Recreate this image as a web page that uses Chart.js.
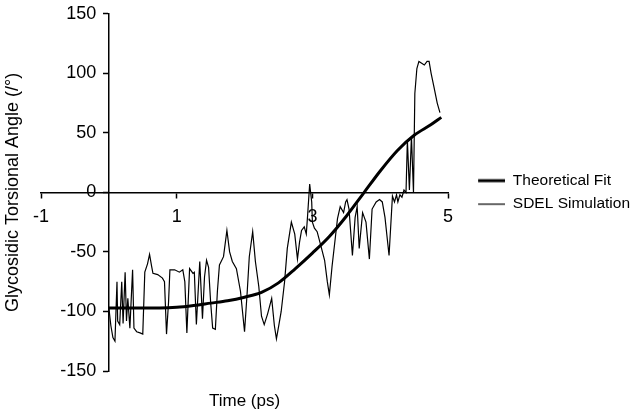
<!DOCTYPE html>
<html>
<head>
<meta charset="utf-8">
<script src="https://cdn.jsdelivr.net/npm/chart.js@4"></script>
<style>
  html, body { margin: 0; padding: 0; background: #fff; }
</style>
</head>
<body>
<canvas id="torsion-graph" width="640" height="415"></canvas>
<script>
// series
var seriesNames = ['Theoretical Fit', 'SDEL Simulation'];

var fitTime = [0, 0.25, 0.5, 0.75, 1, 1.25, 1.5, 1.75, 2, 2.25, 2.5, 2.75, 3, 3.25, 3.5, 3.75, 4, 4.25, 4.5, 4.75, 4.9];
var fitAngle = [-97, -97, -97, -97, -96.5, -95, -93, -91, -88, -84, -76, -64, -51, -37, -20, -1, 18, 35, 48, 57, 63];

var simTime = [0.00, 0.03, 0.06, 0.09, 0.12, 0.13, 0.16, 0.19, 0.21, 0.24,
    0.26, 0.28, 0.31, 0.35, 0.37, 0.41, 0.46, 0.50, 0.53, 0.57,
    0.60, 0.63, 0.65, 0.72, 0.79, 0.82, 0.85, 0.88, 0.90, 0.97,
    1.04, 1.09, 1.12, 1.15, 1.19, 1.24, 1.26, 1.29, 1.34, 1.38,
    1.41, 1.44, 1.47, 1.50, 1.53, 1.57, 1.60, 1.63, 1.69, 1.74,
    1.78, 1.82, 1.88, 1.94, 2.00, 2.04, 2.07, 2.12, 2.16, 2.21,
    2.25, 2.29, 2.34, 2.40, 2.44, 2.47, 2.51, 2.54, 2.59, 2.63,
    2.69, 2.74, 2.78, 2.81, 2.84, 2.88, 2.91, 2.93, 2.96, 2.99,
    3.00, 3.03, 3.07, 3.13, 3.18, 3.22, 3.25, 3.29, 3.34, 3.37,
    3.41, 3.46, 3.49, 3.51, 3.54, 3.59, 3.63, 3.66, 3.69, 3.74,
    3.79, 3.84, 3.88, 3.94, 3.99, 4.03, 4.07, 4.10, 4.13, 4.18,
    4.21, 4.24, 4.26, 4.29, 4.32, 4.35, 4.38, 4.40, 4.43, 4.46,
    4.49, 4.51, 4.54, 4.57, 4.65, 4.69, 4.72, 4.75, 4.79, 4.84,
    4.88];
var simAngle = [-97, -112, -122, -125, -75, -108, -111, -75, -110, -67,
    -108, -89, -114, -65, -114, -117, -118, -119, -67, -60,
    -52, -62, -68, -69, -72, -75, -119, -92, -65, -65,
    -67, -65, -75, -118, -64, -68, -67, -111, -58, -106,
    -71, -57, -63, -92, -114, -115, -83, -61, -54, -32,
    -50, -58, -64, -83, -117, -83, -54, -33, -58, -79,
    -104, -111, -102, -89, -112, -123, -110, -100, -75, -47,
    -25, -35, -56, -42, -32, -29, -35, -19, 7, -8,
    -25, -30, -33, -46, -57, -75, -86, -62, -37, -22,
    -12, -17, -8, -6, -14, -53, -21, -12, -47, -17,
    -25, -56, -14, -8, -6, -8, -21, -37, -53, -3,
    -8, -2, -8, -2, -4, 2, 0, 44, 2, 47,
    0, 83, 104, 110, 107, 110, 110, 100, 89, 75,
    67];

var xTickStep = 2;
var yTickStep = 50;

function toPoints(xs, ys) {
    return xs.map(function (x, i) { return {x: x, y: ys[i]}; });
}

var fontFamily = '"Liberation Sans", Arial, sans-serif';
Chart.defaults.font.family = fontFamily;
Chart.defaults.color = '#000';

// legend: make the legend box fill the space right of x = 5
var legendFont = 15.5;
var legendPad = 8;
var probe = document.createElement('canvas').getContext('2d');
probe.font = legendFont + 'px ' + fontFamily;
var textW = Math.max.apply(null, seriesNames.map(function (s) { return probe.measureText(s).width; }));
var legendBoxW = Math.round(192 - legendPad - 10 - legendFont / 2 - textW);

function legendMark(width, lineWidth) {
    var c = document.createElement('canvas');
    c.width = width;
    c.height = 8;
    var g = c.getContext('2d');
    g.strokeStyle = '#000';
    g.lineWidth = lineWidth;
    g.beginPath();
    g.moveTo(width - 27, 4);
    g.lineTo(width, 4);
    g.stroke();
    return c;
}
var legendMarks = [legendMark(legendBoxW, 3), legendMark(legendBoxW, 1.2)];

var axisLook = {
    grid: {drawOnChartArea: false, drawTicks: true, tickLength: 5, tickColor: '#000', tickWidth: 1.5},
    border: {color: '#000', width: 1.5}
};

var ctx = document.getElementById('torsion-graph').getContext('2d');
var myChart = new Chart(ctx, {
    type: 'scatter',
    data: {
        datasets: [{
            label: seriesNames[0],
            data: toPoints(fitTime, fitAngle),
            showLine: true,
            borderColor: '#000',
            borderWidth: 3,
            pointRadius: 0,
            cubicInterpolationMode: 'monotone'
        }, {
            label: seriesNames[1],
            data: toPoints(simTime, simAngle),
            showLine: true,
            borderColor: '#000',
            borderWidth: 1.2,
            pointRadius: 0,
            tension: 0
        }]
    },
    options: {
        responsive: false,
        animation: false,
        layout: {padding: {top: 11, left: 0, right: 0, bottom: 0}},
        scales: {
            x: {
                type: 'linear',
                min: -1,
                max: 5,
                position: {y: 0},
                ticks: {stepSize: xTickStep, font: {size: 18}, color: '#000', padding: 9},
                grid: axisLook.grid,
                border: axisLook.border
            },
            y: {
                type: 'linear',
                min: -150,
                max: 150,
                position: {x: 0},
                ticks: {
                    stepSize: yTickStep,
                    font: {size: 18},
                    color: '#000',
                    // labels sit right-aligned on the axis, keep a gap before it
                    callback: function (value) { return value + '\u2002\u2009'; }
                },
                grid: axisLook.grid,
                border: axisLook.border
            }
        },
        plugins: {
            title: {
                display: true,
                text: 'Glycosidic Torsional Angle (/°)',
                position: 'left',
                fullSize: false,
                color: '#000',
                font: {size: 18, weight: 'normal'},
                padding: {top: 2, bottom: 17.4}
            },
            subtitle: {
                display: true,
                text: 'Time (ps)',
                position: 'bottom',
                fullSize: false,
                color: '#000',
                font: {size: 17},
                padding: {top: 19.8, bottom: 3.8}
            },
            legend: {
                position: 'right',
                fullSize: false,
                maxWidth: 200,
                labels: {
                    usePointStyle: true,
                    pointStyleWidth: legendBoxW,
                    padding: legendPad,
                    color: '#000',
                    font: {size: legendFont},
                    generateLabels: function (chart) {
                        var items = Chart.defaults.plugins.legend.labels.generateLabels(chart);
                        items.forEach(function (item, i) { item.pointStyle = legendMarks[i]; });
                        return items;
                    }
                }
            },
            tooltip: {enabled: false}
        }
    }
});
</script>
</body>
</html>
